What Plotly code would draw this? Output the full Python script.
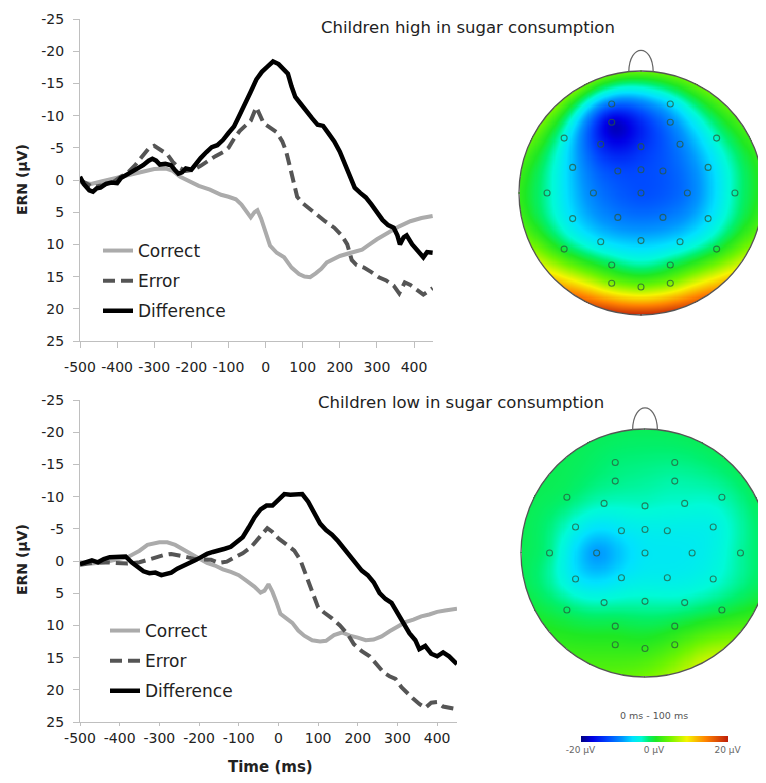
import numpy as np
import plotly.graph_objects as go

# ---------------- ERP data (time in ms, amplitude in µV) ----------------
hi_correct_t = [-500,-470,-440,-400,-360,-330,-300,-270,-250,-230,-210,-180,-150,-120,-100,-80,-65,-50,-40,-30,-22,-12,0,12,30,50,70,90,105,120,135,150,165,180,200,230,260,280,300,330,360,390,420,450]
hi_correct_v = [0.3,0.6,0.2,-0.3,-0.8,-1.3,-1.7,-1.8,-1.4,-0.5,0.1,0.9,1.5,2.3,2.6,3.0,3.8,5.0,5.8,5.0,4.7,6.0,8.0,10.2,11.3,12.0,13.6,14.6,15.0,15.1,14.5,13.8,12.8,12.3,11.8,11.3,10.8,10.0,9.2,8.2,7.2,6.4,5.9,5.6]

hi_error_t = [-500,-480,-465,-440,-410,-390,-370,-350,-330,-315,-300,-285,-265,-250,-235,-215,-195,-175,-155,-135,-115,-100,-85,-70,-55,-40,-25,-15,-5,10,30,45,55,65,75,85,100,120,140,160,185,205,220,232,245,265,285,305,325,345,360,375,390,405,425,440,450]
hi_error_v = [0,0.6,1.1,0.8,0.3,-0.5,-1.2,-2.4,-3.8,-4.9,-5.3,-4.8,-4.0,-2.8,-2.0,-1.4,-1.6,-2.2,-3.0,-3.7,-4.3,-5.0,-6.4,-7.6,-8.4,-9.2,-11.3,-10.2,-8.8,-8.2,-7.4,-6.0,-4.5,-2.2,0.5,2.6,3.6,4.6,5.6,6.4,7.4,8.6,10.0,12.4,13.2,13.6,14.3,15.1,15.6,16.4,17.6,15.9,16.3,17.0,17.8,17.2,16.8]

hi_diff_t = [-500,-490,-475,-465,-455,-445,-430,-415,-400,-390,-375,-360,-345,-330,-315,-305,-295,-285,-270,-255,-245,-235,-225,-215,-200,-190,-175,-160,-145,-130,-115,-100,-85,-70,-55,-40,-25,-10,5,20,35,50,60,70,80,95,110,125,140,155,170,185,200,210,220,230,240,255,270,285,300,315,330,345,355,362,372,380,395,410,425,435,450]
hi_diff_v = [-0.5,0.6,1.6,1.8,1.3,1.2,0.6,0.4,0.5,-0.3,-0.8,-1.3,-1.6,-2.3,-3.0,-3.3,-3.0,-2.4,-2.5,-2.3,-1.6,-1.0,-1.2,-1.8,-1.6,-2.4,-3.4,-4.3,-5.1,-5.4,-6.2,-7.3,-8.3,-10.1,-11.8,-13.7,-15.6,-16.8,-17.6,-18.4,-18.0,-17.2,-16.5,-14.5,-12.9,-11.8,-10.6,-9.6,-8.6,-8.4,-7.2,-6.0,-4.4,-3.0,-1.6,-0.2,1.2,2.0,2.7,3.8,4.9,6.2,7.0,7.4,8.6,10.0,8.9,8.6,10.0,10.9,12.0,11.2,11.3]

lo_correct_t = [-500,-470,-440,-410,-380,-350,-330,-300,-280,-260,-240,-220,-200,-180,-160,-140,-120,-100,-80,-60,-45,-35,-25,-15,-5,5,20,35,50,65,85,105,120,140,160,180,200,220,240,260,280,300,320,340,360,380,400,420,450]
lo_correct_v = [0.2,0.4,0.2,-0.2,-0.6,-1.6,-2.5,-2.9,-2.9,-2.5,-1.8,-1.1,-0.5,0.3,0.7,1.3,1.7,2.2,3.1,4.0,4.9,4.6,3.6,4.8,6.4,8.2,8.9,9.6,10.8,11.6,12.3,12.5,12.4,11.5,11.1,11.6,11.9,12.3,12.2,11.7,10.9,10.2,9.5,9.1,8.6,8.3,7.9,7.7,7.4]

lo_error_t = [-500,-470,-440,-410,-380,-350,-330,-310,-290,-270,-250,-230,-210,-190,-170,-150,-130,-110,-90,-70,-55,-40,-28,-15,0,20,40,55,65,78,90,100,115,135,155,175,190,210,230,250,265,280,295,310,325,340,355,370,385,400,415,435,450]
lo_error_v = [0.6,0.3,0.2,0.3,0.4,0.2,-0.2,-0.6,-0.9,-1.1,-0.9,-0.6,-0.3,-0.3,-0.2,0.3,0.1,-0.6,-1.2,-2.1,-3.2,-4.3,-5.1,-4.5,-3.5,-2.6,-1.6,-0.2,1.4,3.6,5.8,7.2,8.0,8.9,10.0,11.4,12.9,14.0,14.8,16.2,17.3,17.9,18.3,19.6,20.6,21.4,22.2,22.8,22.0,21.9,22.6,22.9,23.0]

lo_diff_t = [-500,-485,-470,-455,-440,-425,-410,-395,-385,-370,-355,-340,-325,-310,-295,-285,-270,-255,-240,-225,-210,-195,-180,-165,-150,-135,-120,-105,-90,-75,-60,-45,-30,-15,0,15,30,45,60,75,90,105,120,135,150,165,180,195,210,225,240,255,270,285,300,315,330,345,355,370,385,400,415,430,450]
lo_diff_v = [0.5,0.2,-0.1,0.2,-0.3,-0.6,-0.7,-0.8,-0.7,0.2,0.9,1.6,1.9,1.8,2.2,2.0,1.8,1.2,0.8,0.4,-0.1,-0.6,-1.1,-1.4,-1.6,-1.9,-2.2,-3.0,-3.7,-5.2,-6.8,-8.0,-8.6,-8.6,-9.6,-10.4,-10.3,-10.4,-10.4,-9.2,-7.6,-5.8,-4.8,-4.1,-3.1,-2.0,-0.8,0.2,1.5,2.2,3.3,5.0,5.9,6.5,8.0,9.6,11.2,12.3,13.7,13.2,14.4,14.8,14.2,14.8,16.0]

x_ticks = [-500,-400,-300,-200,-100,0,100,200,300,400]
x_ticklabels = ["-500","-400","-300","-200","-100","0","100","200","300","400"]
y_ticks = [-25,-20,-15,-10,-5,0,5,10,15,20,25]
y_ticklabels = ["-25","-20","-15","-10","-5","0","5","10","15","20","25"]
series_names = ["Correct", "Error", "Difference"]

# ---------------- Topography data (electrode positions, µV) ----------------
elec_x = [-0.24,0.24, -0.24,0.24, -0.63,-0.33,0,0.32,0.62, -0.56,-0.19,0,0.18,0.55,
          -0.77,-0.39,0,0.38,0.77, -0.56,-0.19,0.18,0.55, -0.63,-0.33,0,0.32,0.62,
          -0.24,0.24, -0.24,0,0.24]
elec_y = [0.73,0.73, 0.58,0.58, 0.45,0.40,0.38,0.40,0.45, 0.21,0.18,0.19,0.18,0.21,
          0,0,0,0,0, -0.21,-0.20,-0.20,-0.21, -0.46,-0.40,-0.39,-0.40,-0.46,
          -0.59,-0.59, -0.74,-0.77,-0.74]
hi_elec_v = [-10,-7, -23,-10, -4,-14,-13,-10,-3, -7,-12,-12,-12,-7,
             -2,-10,-13,-11,-2, -6,-10,-10,-6, -1,-6,-7,-6,-1,
             0,0, 3,3,3]
lo_elec_v = [-2,-2, -2,-3, -1,-3,-3,-3,-3, -4,-5,-5,-5,-5,
             -1,-11,-5,-5,-2, -6,-5,-5,-4, -1,-3,-3,-3,-1,
             0,0, 1,1,2]
rim_angle = list(range(0, 360, 15))
hi_rim_v = [1,1,2,3,4,4,4,4,5,5,4,2,1,2,6,11,16,19,20,19,16,11,6,2]
lo_rim_v = [-1,-1,-1,-1,-1,-1,-1,-1,-1,-1,-1,-1,-1,-1,0,1,2,3,4,6,8,5,1,-1]

# page offset (browser body margin) and figure size
OX, OY = 8, 8
FW, FH = 758, 775
FONT = "DejaVu Sans"


def pxf(x):
    return (x - OX) / FW


def pyf(y):
    return 1 - (y - OY) / FH


def tps_map(vals, rim_vals, n=231, lam=0.06):
    rx = np.cos(np.radians(rim_angle))
    ry = np.sin(np.radians(rim_angle))
    P = np.column_stack([np.concatenate([elec_x, rx]), np.concatenate([elec_y, ry])])
    v = np.concatenate([vals, rim_vals]).astype(float)
    N = len(P)

    def kern(d):
        return np.where(d > 0, d ** 2 * np.log(d + 1e-12), 0.0)

    d = np.sqrt(((P[:, None, :] - P[None, :, :]) ** 2).sum(-1))
    A = np.zeros((N + 3, N + 3))
    A[:N, :N] = kern(d) + np.eye(N) * lam
    Pm = np.column_stack([np.ones(N), P])
    A[:N, N:] = Pm
    A[N:, :N] = Pm.T
    sol = np.linalg.solve(A, np.concatenate([v, np.zeros(3)]))
    w, a = sol[:N], sol[N:]
    g = np.linspace(-1, 1, n)
    X, Y = np.meshgrid(g, g)
    G = np.column_stack([X.ravel(), Y.ravel()])
    dg = np.sqrt(((G[:, None, :] - P[None, :, :]) ** 2).sum(-1))
    Z = kern(dg) @ w + a[0] + G @ a[1:]
    Z = Z.reshape(n, n)
    Z[X ** 2 + Y ** 2 > 1.0] = np.nan
    return g, Z


fig = go.Figure()

styles = [dict(color="#ababab", width=4, dash="solid"),
          dict(color="#555555", width=4, dash="12px,6px"),
          dict(color="#000000", width=4.5, dash="solid")]

top = [(hi_correct_t, hi_correct_v), (hi_error_t, hi_error_v), (hi_diff_t, hi_diff_v)]
bot = [(lo_correct_t, lo_correct_v), (lo_error_t, lo_error_v), (lo_diff_t, lo_diff_v)]
for i, (t, v) in enumerate(top):
    fig.add_trace(go.Scatter(x=t, y=v, mode="lines", name=series_names[i], line=styles[i],
                             xaxis="x", yaxis="y", legend="legend", legendgroup="a%d" % i))
for i, (t, v) in enumerate(bot):
    fig.add_trace(go.Scatter(x=t, y=v, mode="lines", name=series_names[i], line=styles[i],
                             xaxis="x2", yaxis="y2", legend="legend2", legendgroup="b%d" % i))

# Topomaps
g1, Z1 = tps_map(hi_elec_v, hi_rim_v)
g2, Z2 = tps_map(lo_elec_v, lo_rim_v)
fig.add_trace(go.Heatmap(x=g1, y=g1, z=Z1, coloraxis="coloraxis", xaxis="x3", yaxis="y3",
                         hoverinfo="skip", showlegend=False))
fig.add_trace(go.Heatmap(x=g2, y=g2, z=Z2, coloraxis="coloraxis", xaxis="x4", yaxis="y4",
                         hoverinfo="skip", showlegend=False))
for xa, ya in [("x3", "y3"), ("x4", "y4")]:
    fig.add_trace(go.Scatter(x=elec_x, y=elec_y, mode="markers", xaxis=xa, yaxis=ya,
                             marker=dict(symbol="circle-open", size=6,
                                         line=dict(width=1.1), color="rgba(40,90,60,0.75)"),
                             showlegend=False, hoverinfo="skip"))

# head geometry (page pixels)
heads = [dict(cx=641, cy=193, r=122, xa="x3", ya="y3", dom_x=(515, 766), dom_y=(38, 330)),
         dict(cx=645, cy=553, r=124, xa="x4", ya="y4", dom_x=(515, 766), dom_y=(398, 692))]

shapes = []
layout_axes = {}
for k, hd in enumerate(heads):
    idx = 3 + k
    x0 = (hd["dom_x"][0] - hd["cx"]) / hd["r"]
    x1 = (hd["dom_x"][1] - hd["cx"]) / hd["r"]
    y1 = (hd["cy"] - hd["dom_y"][0]) / hd["r"]
    y0 = (hd["cy"] - hd["dom_y"][1]) / hd["r"]
    layout_axes["xaxis%d" % idx] = dict(domain=[pxf(hd["dom_x"][0]), pxf(hd["dom_x"][1])],
                                       range=[x0, x1], visible=False, anchor="y%d" % idx,
                                       fixedrange=True)
    layout_axes["yaxis%d" % idx] = dict(domain=[pyf(hd["dom_y"][1]), pyf(hd["dom_y"][0])],
                                       range=[y0, y1], visible=False, anchor="x%d" % idx,
                                       fixedrange=True)
    shapes.append(dict(type="circle", xref=hd["xa"], yref=hd["ya"], x0=-1, x1=1, y0=-1, y1=1,
                       line=dict(color="#555555", width=1.3), layer="above"))
    nw = 0.1
    yb = float(np.sqrt(1 - nw ** 2))
    c = (1.17 - 0.25 * yb) / 0.75
    shapes.append(dict(type="path", xref=hd["xa"], yref=hd["ya"],
                       path="M %.3f,%.3f C %.3f,%.3f %.3f,%.3f %.3f,%.3f" % (-nw, yb, -nw * 0.95, c, nw * 0.95, c, nw, yb),
                       line=dict(color="#666666", width=1.2)))

axis_common = dict(showgrid=False, zeroline=False, showline=True, linecolor="#bfbfbf", linewidth=1,
                   ticks="outside", ticklen=6, tickcolor="#bfbfbf", tickangle=0,
                   tickfont=dict(family=FONT, size=14, color="#222222"), fixedrange=True)

fig.update_layout(
    width=FW, height=FH, margin=dict(l=0, r=0, t=0, b=0, autoexpand=False),
    paper_bgcolor="white", plot_bgcolor="white",
    xaxis=dict(axis_common, domain=[pxf(80), pxf(433)], range=[-500, 451], tickvals=x_ticks,
               ticktext=x_ticklabels, anchor="y", ticklabelstandoff=7),
    yaxis=dict(axis_common, domain=[pyf(341), pyf(19)], range=[25, -25], tickvals=y_ticks,
               ticktext=y_ticklabels, anchor="x", ticklabelstandoff=6),
    xaxis2=dict(axis_common, domain=[pxf(80), pxf(457)], range=[-500, 450], tickvals=x_ticks,
                ticktext=x_ticklabels, anchor="y2", ticklen=3),
    yaxis2=dict(axis_common, domain=[pyf(722), pyf(400)], range=[25, -25], tickvals=y_ticks,
                ticktext=y_ticklabels, anchor="x2", ticklabelstandoff=6),
    legend=dict(x=pxf(98), y=pyf(233), xanchor="left", yanchor="top", bgcolor="rgba(0,0,0,0)",
                font=dict(family=FONT, size=17, color="#222222"), tracegroupgap=5,
                itemwidth=30),
    legend2=dict(x=pxf(105), y=pyf(613), xanchor="left", yanchor="top", bgcolor="rgba(0,0,0,0)",
                 font=dict(family=FONT, size=17, color="#222222"), tracegroupgap=5,
                 itemwidth=30),
    coloraxis=dict(cmin=-20, cmax=20,
                   colorscale=[[0.0, "rgb(0,0,130)"], [0.08, "rgb(0,0,230)"], [0.18, "rgb(0,70,255)"],
                               [0.28, "rgb(0,150,255)"], [0.35, "rgb(0,225,255)"], [0.41, "rgb(0,250,215)"],
                               [0.46, "rgb(0,240,110)"], [0.51, "rgb(30,232,35)"], [0.6, "rgb(110,245,0)"],
                               [0.72, "rgb(245,245,0)"], [0.85, "rgb(255,130,0)"], [1.0, "rgb(190,30,10)"]],
                   colorbar=dict(orientation="h", x=pxf(654), xanchor="center", y=pyf(736),
                                 yanchor="top", len=147, lenmode="pixels", thickness=6,
                                 outlinewidth=0, xpad=0, ypad=0, tickvals=[-20, 0, 20],
                                 ticktext=["-20 µV", "0 µV", "20 µV"], ticks="",
                                 tickfont=dict(family=FONT, size=9, color="#666666"))),
    shapes=shapes,
    **layout_axes,
)

annotations = [
    dict(text="Children high in sugar consumption", x=pxf(468), y=pyf(27), showarrow=False,
         font=dict(family=FONT, size=16.5, color="#222222")),
    dict(text="Children low in sugar consumption", x=pxf(461), y=pyf(402), showarrow=False,
         font=dict(family=FONT, size=16.5, color="#222222")),
    dict(text="<b>ERN (µV)</b>", x=pxf(22), y=pyf(180), textangle=-90, showarrow=False,
         font=dict(family=FONT, size=14, color="#222222")),
    dict(text="<b>ERN (µV)</b>", x=pxf(22), y=pyf(560), textangle=-90, showarrow=False,
         font=dict(family=FONT, size=14, color="#222222")),
    dict(text="<b>Time (ms)</b>", x=pxf(270), y=pyf(767), showarrow=False,
         font=dict(family=FONT, size=15, color="#222222")),
    dict(text="0 ms - 100 ms", x=pxf(654), y=pyf(715), showarrow=False,
         font=dict(family=FONT, size=9.5, color="#555555")),
]
for a in annotations:
    a.update(xref="paper", yref="paper", xanchor="center", yanchor="middle")
fig.update_layout(annotations=annotations)

fig.write_html("out.html")
